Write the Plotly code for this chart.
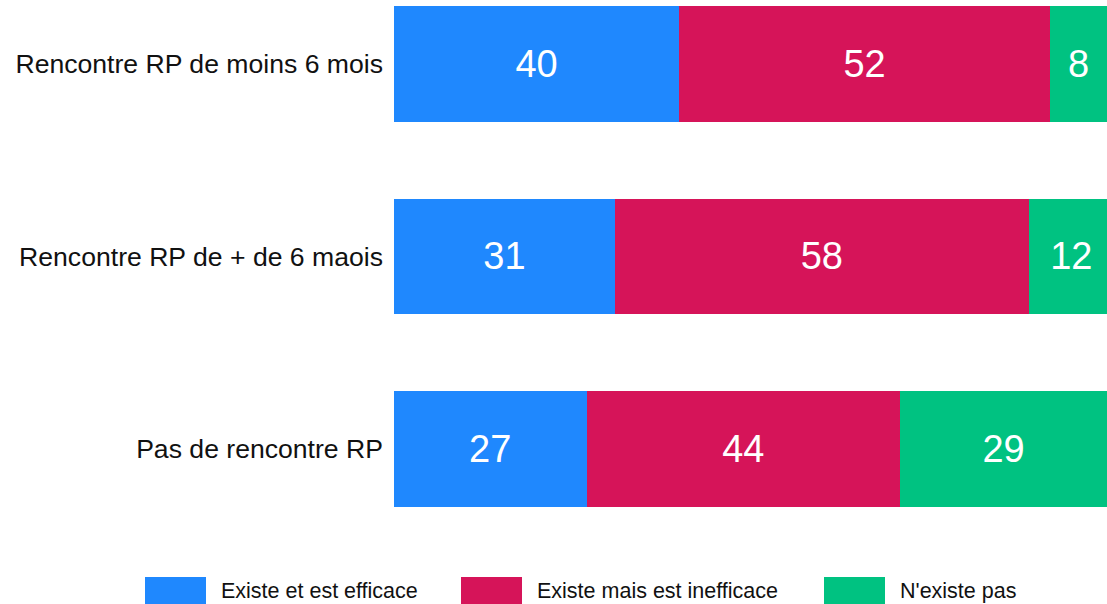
import plotly.graph_objects as go

# Survey groups (top to bottom) and the share of answers per group, in %
categories = [
    "Rencontre RP de moins 6 mois",
    "Rencontre RP de + de 6 maois",
    "Pas de rencontre RP",
]
series_names = ["Existe et est efficace", "Existe mais est inefficace", "N'existe pas"]
efficace = [40, 31, 27]
inefficace = [52, 58, 44]
n_existe_pas = [8, 12, 29]

series_values = [efficace, inefficace, n_existe_pas]
colors = ["#1f88fe", "#d61459", "#00c281"]
FONT = "Liberation Sans, Arial, sans-serif"

fig = go.Figure()
for name, vals, col in zip(series_names, series_values, colors):
    fig.add_trace(go.Bar(
        name=name,
        y=categories,
        x=vals,
        orientation="h",
        marker=dict(color=col, line=dict(width=0)),
        text=[str(v) for v in vals],
        textposition="inside",
        insidetextanchor="middle",
        textangle=0,
        textfont=dict(family=FONT, size=38, color="white"),
        showlegend=False,
        hoverinfo="skip",
    ))

# Custom legend row: large swatches with labels underneath the plot
W, H = 1107, 604
PLOT_L, PLOT_B = 394, 540
legend_x = [(145, 206, 219), (461, 522, 535), (824, 885, 898)]


def px_x(x):
    return (x - PLOT_L) / (W - PLOT_L)


def px_y(y):
    return (PLOT_B - y) / PLOT_B


shapes = []
annotations = []
for (x0, x1, tx), name, col in zip(legend_x, series_names, colors):
    shapes.append(dict(
        type="rect", xref="paper", yref="paper",
        x0=px_x(x0), x1=px_x(x1), y0=px_y(604), y1=px_y(577),
        fillcolor=col, line=dict(width=0),
    ))
    annotations.append(dict(
        xref="paper", yref="paper",
        x=px_x(tx), y=px_y(591),
        text=name, showarrow=False, xanchor="left", yanchor="middle",
        font=dict(family=FONT, size=21.5, color="#111111"),
    ))

fig.update_layout(
    barmode="stack",
    bargap=0.4,
    width=W,
    height=H,
    margin=dict(l=PLOT_L, r=0, t=0, b=H - PLOT_B),
    paper_bgcolor="white",
    plot_bgcolor="white",
    xaxis=dict(range=[0, 100], visible=False, fixedrange=True),
    yaxis=dict(
        categoryorder="array",
        categoryarray=categories,
        range=[2.473, -0.332],
        showgrid=False,
        zeroline=False,
        showline=False,
        ticks="",
        ticklabelstandoff=10,
        tickfont=dict(family=FONT, size=26.6, color="#111111"),
    ),
    shapes=shapes,
    annotations=annotations,
    showlegend=False,
)

fig.write_html("out.html")
